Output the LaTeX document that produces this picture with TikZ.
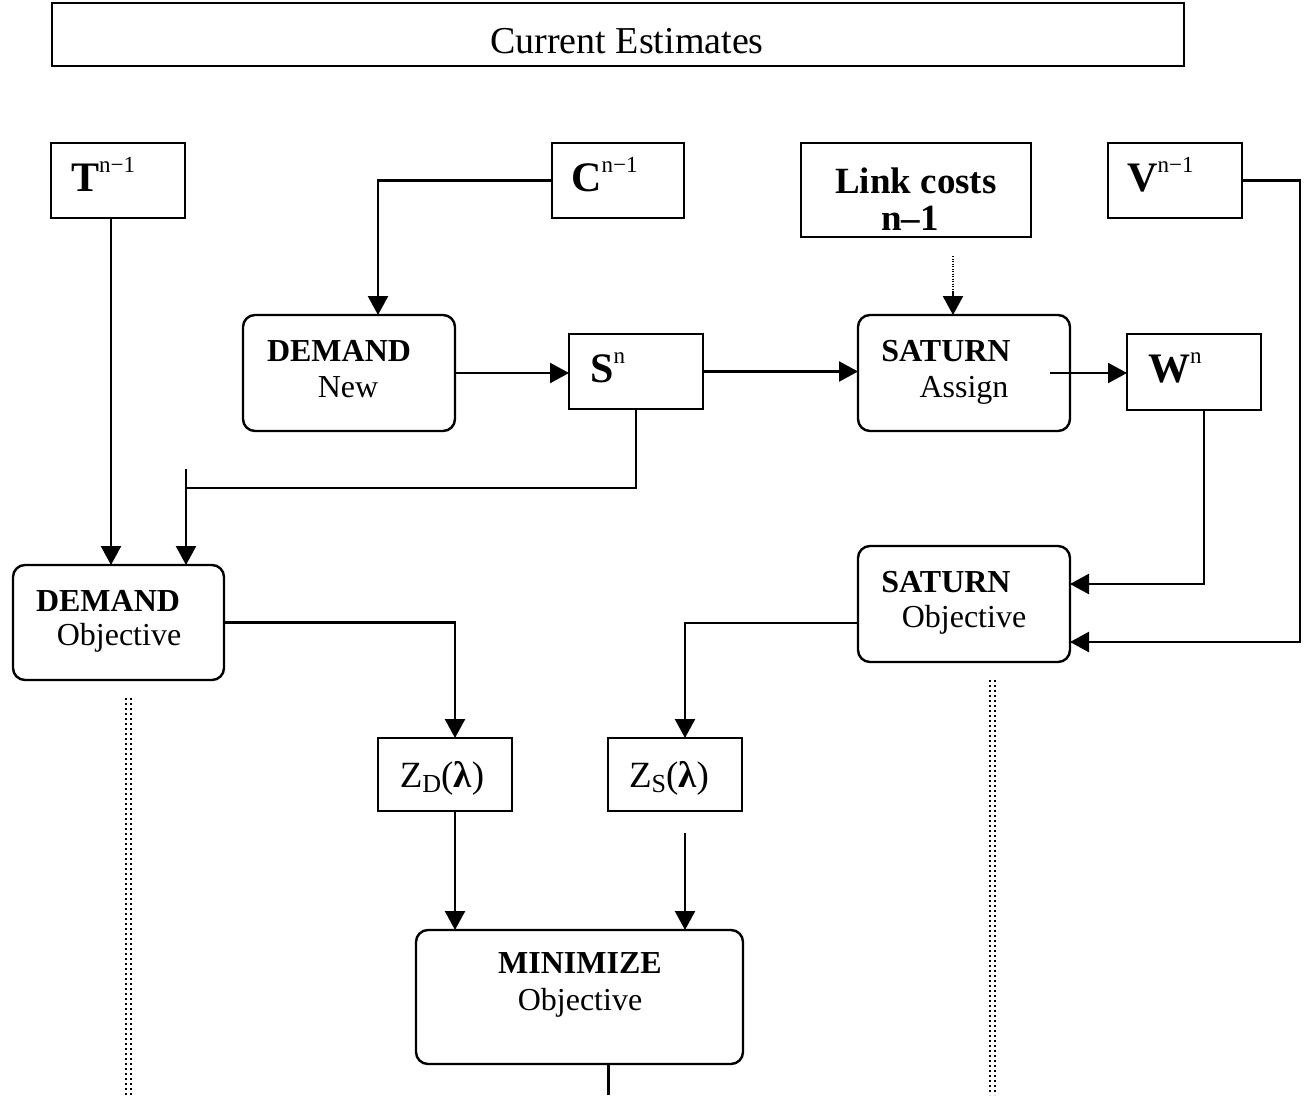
\documentclass[tikz,border=0pt]{standalone}
\usepackage{fontspec}
\setmainfont{Liberation Serif}
\usetikzlibrary{arrows.meta}

\newcommand{\hitxt}[1]{\raisebox{19pt}{\normalfont\fontsize{23}{23}\selectfont #1}}
\newcommand{\lotxt}[1]{\raisebox{-5pt}{\fontsize{26}{26}\selectfont #1}}

\begin{document}
\begin{tikzpicture}[x=1pt, y=-1pt,
    box/.style={draw, line width=2.4pt, inner sep=0pt, outer sep=0pt, anchor=north west},
    rbox/.style={box, rounded corners=12pt},
    lbl/.style={anchor=base, inner sep=0pt, font=\fontsize{32}{38}\selectfont},
    big/.style={anchor=base west, inner sep=0pt, font=\fontsize{42}{48}\selectfont\bfseries},
    link/.style={line width=2.4pt},
    arr/.style={link, -{Triangle[length=19pt, width=20pt]}},
    dots/.style={line width=2pt, dash pattern=on 2pt off 3pt}]

    \useasboundingbox (0,0) rectangle (1306,1095);

    % boxes
    \node[box, minimum width=1132pt, minimum height=63pt] (curr) at (52,3) {};
    \node[box, minimum width=134pt, minimum height=75pt] (tprev) at (51,143) {};
    \node[box, minimum width=132pt, minimum height=75pt] (cprev) at (552,143) {};
    \node[box, minimum width=230pt, minimum height=94pt] (lcost) at (801,143) {};
    \node[box, minimum width=134pt, minimum height=75pt] (vprev) at (1108,143) {};
    \node[rbox, minimum width=212pt, minimum height=116pt] (dnew) at (243,315) {};
    \node[box, minimum width=134pt, minimum height=75pt] (snew) at (569,334) {};
    \node[rbox, minimum width=212pt, minimum height=116pt] (sassign) at (858,315) {};
    \node[box, minimum width=134pt, minimum height=76pt] (wnew) at (1127,334) {};
    \node[rbox, minimum width=211pt, minimum height=115pt] (dobj) at (13,565) {};
    \node[rbox, minimum width=212pt, minimum height=116pt] (sobj) at (858,546) {};
    \node[box, minimum width=134pt, minimum height=73pt] (zd) at (378,738) {};
    \node[box, minimum width=134pt, minimum height=73pt] (zs) at (608,738) {};
    \node[rbox, minimum width=327pt, minimum height=134pt] (mini) at (416,930) {};

    % texts
    \node[lbl, font=\fontsize{38}{44}\selectfont] (currt) at (627,53) {Current Estimates};
    \node[big] (tprevt) at (71,191) {T\hitxt{n−1}};
    \node[big] (cprevt) at (571,191) {C\hitxt{n−1}};
    \node[big] (vprevt) at (1127,191) {V\hitxt{n−1}};
    \node[lbl, font=\fontsize{37}{44}\selectfont\bfseries] (lcostt) at (916,193) {Link costs};
    \node[lbl, font=\fontsize{37}{44}\selectfont\bfseries] (lcostn) at (910,230) {n–1};
    \node[lbl] (dnewt) at (339,361) {\textbf{DEMAND}};
    \node[lbl] (dnewn) at (348,397) {New};
    \node[big] (snewt) at (590,382) {S\hitxt{n}};
    \node[lbl] (sassignt) at (946,361) {\textbf{SATURN}};
    \node[lbl] (sassignn) at (964,397) {Assign};
    \node[big] (wnewt) at (1148,382) {W\hitxt{n}};
    \node[lbl] (dobjt) at (108,611) {\textbf{DEMAND}};
    \node[lbl] (dobjn) at (119,645) {Objective};
    \node[lbl] (sobjt) at (946,592) {\textbf{SATURN}};
    \node[lbl] (sobjn) at (964,627) {Objective};
    \node[lbl, font=\fontsize{37}{44}\selectfont] (zdt) at (442,787) {Z\lotxt{D}(\textbf{λ})};
    \node[lbl, font=\fontsize{37}{44}\selectfont] (zst) at (669,787) {Z\lotxt{S}(\textbf{λ})};
    \node[lbl] (minit) at (580,973) {\textbf{MINIMIZE}};
    \node[lbl] (minin) at (580,1010) {Objective};

    % connectors
    \coordinate (sj) at (186,488);
    \coordinate (ltip) at (953,292);
    \draw[arr] ([xshift=-7pt]tprev.south) -- ([xshift=-7pt]tprev.south |- dobj.north);
    \draw[arr] (cprev.west) -| ([xshift=29pt]dnew.north);
    \draw[arr] (dnew.east) -- (dnew.east -| snew.west);
    \draw[arr] (snew.east) -- (snew.east -| sassign.west);
    \draw[arr] ([xshift=-20pt]sassign.east) -- (sassign.east -| wnew.west);
    \draw[line width=1.5pt, dash pattern=on 1pt off 1.5pt] (lcost.south -| ltip) ++(0,19) -- (ltip);
    \draw[arr] (ltip) -- (ltip |- sassign.north);
    \draw[link] (snew.south) |- (sj);
    \draw[arr] (sj) ++(0,-19) -- (sj |- dobj.north);
    \draw[arr] ([xshift=10pt]wnew.south) |- ([yshift=20pt]sobj.east);
    \draw[arr] (vprev.east) -- ++(58,0) |- ([yshift=-38pt]sobj.east);
    \draw[arr] (dobj.east) -| ([xshift=10pt]zd.north);
    \draw[arr] ([yshift=-19pt]sobj.west) -| ([xshift=10pt]zs.north);
    \draw[arr] ([xshift=10pt]zd.south) -- ([xshift=10pt]zd.south |- mini.north);
    \draw[arr] ([xshift=10pt, yshift=-22pt]zs.south) -- ([xshift=10pt]zs.south |- mini.north);
    \draw[link] ([xshift=29pt]mini.south) -- ++(0,31);

    % dotted lines below the objectives
    \foreach \x in {126,131} \draw[dots] (\x,698) -- (\x,1095);
    \foreach \x in {990,995} \draw[dots] (\x,680) -- (\x,1095);
\end{tikzpicture}
\end{document}
